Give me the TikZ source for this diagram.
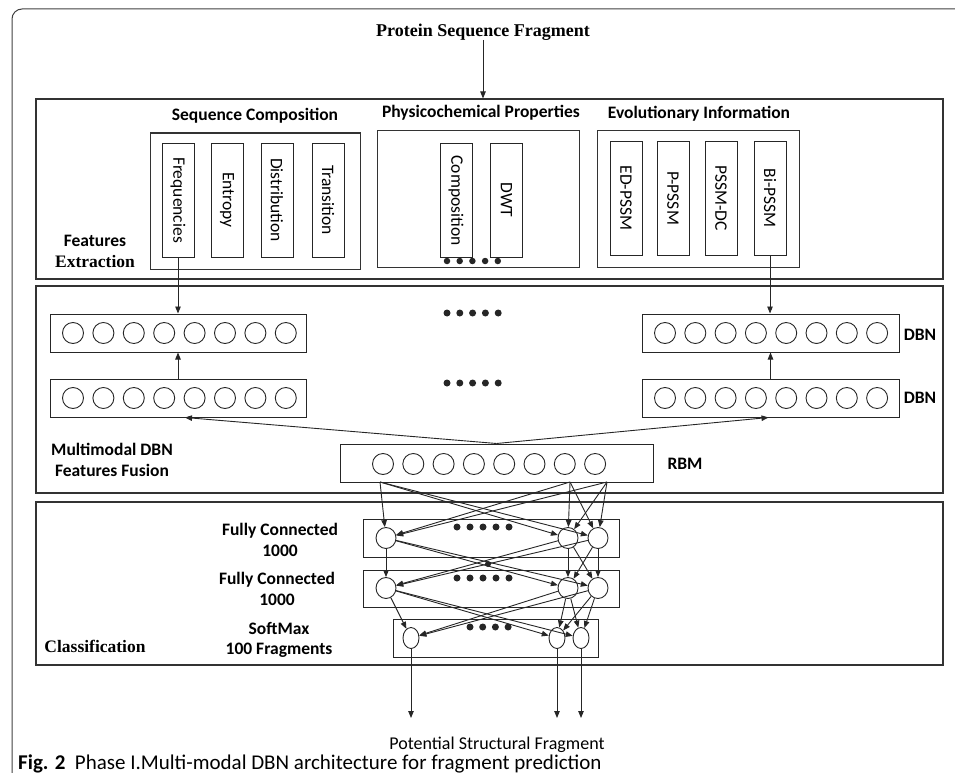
\documentclass[tikz,border=0pt]{standalone}
\usepackage{fontspec}
\setmainfont{Liberation Serif}
\newfontfamily\calfont{Carlito}
\usetikzlibrary{arrows.meta,shapes.geometric,calc}
\begin{document}
\begin{tikzpicture}[x=1pt,y=-1pt,
  sect/.style={draw=black!80, line width=1.1pt, inner sep=0pt},
  grp/.style={draw=black!80, line width=1pt, inner sep=0pt},
  vbox/.style={draw=black!85, line width=1pt, rotate=-90, inner sep=0pt, minimum width=114pt, minimum height=32pt, font=\calfont\fontsize{17.5}{17.5}\selectfont},
  layer/.style={draw=black!85, line width=1pt, inner sep=0pt, minimum width=256pt, minimum height=38pt},
  neuron/.style={circle, draw=black!85, line width=0.9pt, inner sep=0pt, minimum size=21pt},
  unit/.style={ellipse, draw=black!85, line width=0.9pt, inner sep=0pt, minimum width=20pt, minimum height=21pt},
  sunit/.style={ellipse, draw=black!85, line width=0.9pt, inner sep=0pt, minimum width=16pt, minimum height=21pt},
  dotn/.style={circle, fill=black!85, inner sep=0pt, minimum size=7pt},
  arr/.style={-{Triangle[length=7pt,width=5.5pt]}, line width=0.9pt, draw=black!85},
  hd/.style={font=\calfont\bfseries\fontsize{17.5}{17.5}\selectfont},
  lab/.style={font=\calfont\bfseries\fontsize{17.5}{20.5}\selectfont, align=center},
  slab/.style={font=\bfseries\fontsize{17.5}{20}\selectfont},
]
\useasboundingbox (0,0) rectangle (955,773);
\begin{scope}
\clip (0,0) rectangle (955,773);
\draw[line width=1pt, draw=black!75, rounded corners=10pt] (12,800) |- (990,9);
\end{scope}

% title
\node[font=\bfseries\fontsize{18}{18}\selectfont] (title) at (483,32) {Protein Sequence Fragment};

% sections
\node[sect, minimum width=907pt, minimum height=180pt] (s1) at (489.5,189) {};
\node[sect, minimum width=907pt, minimum height=207pt] (s2) at (489.5,389.5) {};
\node[sect, minimum width=907pt, minimum height=163pt] (s3) at (489.5,583.5) {};
\draw[arr] ([yshift=4pt]title.south) -- (title.south |- s1.north);

% feature groups
\node[grp, minimum width=210pt, minimum height=136pt] (seq) at (255,201) {};
\node[grp, minimum width=202pt, minimum height=136pt] (phys) at (478,199) {};
\node[grp, minimum width=202pt, minimum height=136pt] (evo) at (698,199) {};
\node[hd] (seqt) at (255,116) {Sequence Composition};
\node[hd] (physt) at (481,113) {Physicochemical Properties};
\node[hd] (evot) at (699,114) {Evolutionary Information};

\node[vbox] (freq) at (178,200) {Frequencies};
\node[vbox] (entr) at (227,200) {Entropy};
\node[vbox] (dist) at (277,200) {Distribution};
\node[vbox] (tran) at (328,200) {Transition};
\node[vbox] (comp) at (456,200.5) {Composition};
\node[vbox] (dwt) at (506.5,200) {DWT};
\node[vbox] (edp) at (626,198) {ED-PSSM};
\node[vbox] (pp) at (673,198) {P-PSSM};
\node[vbox] (pdc) at (721,198) {PSSM-DC};
\node[vbox] (bip) at (770,198) {Bi-PSSM};
\foreach \i in {0,...,4} \node[dotn, minimum size=6.5pt] (fd\i) at (447+12.7*\i,261) {};

\node[font=\calfont\bfseries\fontsize{17.5}{17.5}\selectfont] (fe1) at (95,241) {Features};
\node[slab] (fe2) at (95,262) {Extraction};

% DBN section
\node[layer] (ltop) at (178,333) {};
\node[layer] (lbot) at (178,398) {};
\node[layer, minimum width=257pt] (rtop) at (770.5,333) {};
\node[layer, minimum width=257pt] (rbot) at (770.5,398) {};
\foreach \i in {0,...,7} {
  \node[neuron] (lt\i) at (73+30.4*\i,333) {};
  \node[neuron] (lb\i) at (73+30.4*\i,398) {};
  \node[neuron] (rt\i) at (665+30.3*\i,333) {};
  \node[neuron] (rb\i) at (665+30.3*\i,398) {};
}
\foreach \i in {0,...,4} {
  \node[dotn] (ud\i) at (447+12.8*\i,313) {};
  \node[dotn] (md\i) at (447+12.8*\i,383) {};
}
\node[lab] (dbn1) at (920,335) {DBN};
\node[lab] (dbn2) at (920,398) {DBN};

\node[layer, minimum width=313pt] (rbm) at (496.5,463) {};
\foreach \i in {0,...,7} \node[neuron] (rm\i) at (383+30.3*\i,464) {};
\node[lab] (rbmt) at (685,464) {RBM};
\node[lab] (mmt) at (112,460) {Multimodal DBN\\Features Fusion};

\draw[arr] (freq.east) -- (ltop.north);
\draw[arr] (bip.east) -- (bip.east |- rtop.north);
\draw[arr] (lbot.north) -- (ltop.south);
\draw[arr] (rbot.north) -- (rtop.south);
\draw[arr] (rbm.north) -- ($(lbot.south)+(7,0)$);
\draw[arr] (rbm.north) -- ($(rbot.south)+(-2,0)$);

% classification
\node[layer] (fc1) at (491,538) {};
\node[layer, minimum height=37pt] (fc2) at (491,588.5) {};
\node[layer, minimum width=205pt] (sm) at (495.5,638) {};
\node[unit] (a1) at (386,538) {};
\node[unit] (a2) at (568,538) {};
\node[unit] (a3) at (598,538) {};
\node[unit] (b1) at (386,588) {};
\node[unit] (b2) at (568,588) {};
\node[unit] (b3) at (598,588) {};
\node[sunit] (c1) at (411,638) {};
\node[sunit] (c2) at (557,638) {};
\node[sunit] (c3) at (581,638) {};
\foreach \i in {0,...,4} {
  \node[dotn] (f1d\i) at (457+13*\i,527) {};
  \node[dotn] (f2d\i) at (457+13*\i,578) {};
}
\foreach \i in {0,...,3} \node[dotn] (smd\i) at (470+12.7*\i,627) {};
\node[dotn, minimum size=6pt] (xd) at (488,564) {};

\coordinate (r1) at (380,482);
\coordinate (r2) at (570,482);
\coordinate (r3) at (607,482);
\foreach \s in {r1,r2,r3} \foreach \t in {a1,a2,a3} \draw[arr] (\s) -- (\t);
\foreach \s in {a1,a2,a3} \foreach \t in {b1,b2,b3} \draw[arr] (\s) -- (\t);
\foreach \s in {b1,b2,b3} \foreach \t in {c1,c2,c3} \draw[arr] (\s) -- (\t);
\coordinate (o1) at (411,718);
\coordinate (o2) at (557,718);
\coordinate (o3) at (581,718);
\draw[arr] (c1) -- (o1);
\draw[arr] (c2) -- (o2);
\draw[arr] (c3) -- (o3);

\node[lab] (fct1) at (280,540) {Fully Connected\\1000};
\node[lab] (fct2) at (277,589) {Fully Connected\\1000};
\node[lab] (smt) at (279,640) {SoftMax\\100 Fragments};
\node[slab] (clt) at (95,646) {Classification};

\node[anchor=base, font=\calfont\fontsize{18}{18}\selectfont] (out) at (497,749) {Potential Structural Fragment};
\node[anchor=base west, inner sep=0pt, font=\calfont\fontsize{21}{21}\selectfont] (cap) at (18,769) {\textbf{Fig. 2}\hspace{0.45em}Phase I.Multi-modal DBN architecture for fragment prediction};
\end{tikzpicture}
\end{document}
